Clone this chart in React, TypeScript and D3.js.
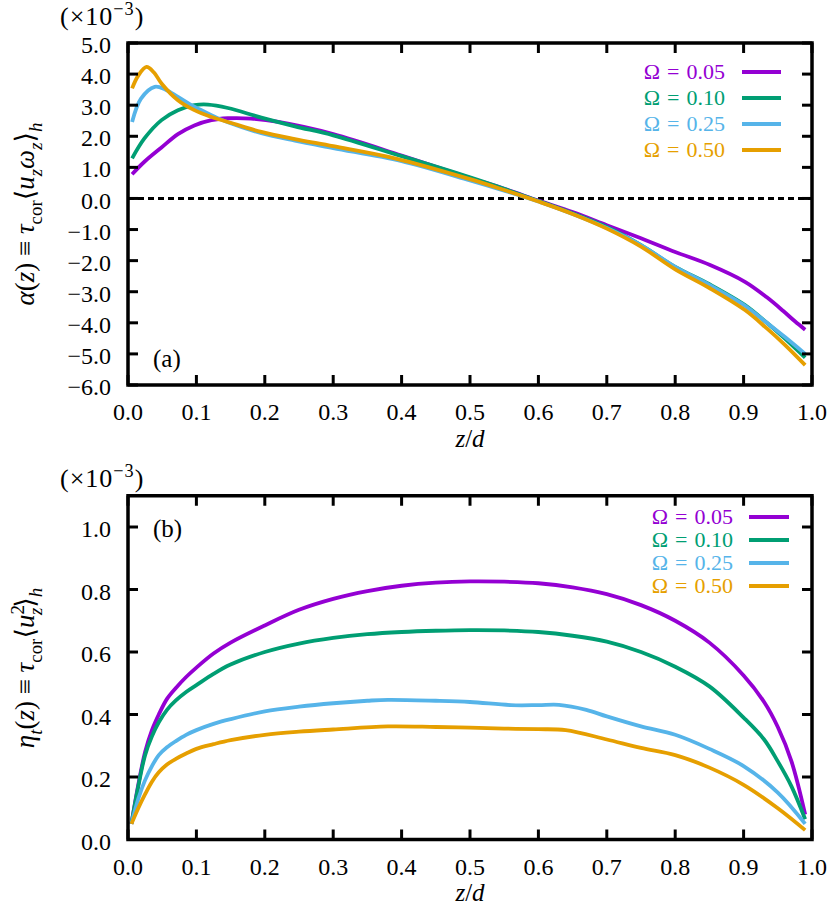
import { useEffect, useRef } from 'react';
import * as d3 from 'd3';

// legend labels and line colours
const omegaLabels = ['0.05', '0.10', '0.25', '0.50'];
const colors = ['#9400d3', '#009e73', '#56b4e9', '#e69f00'];

// panel (a): alpha(z) in units of 1e-3, [z/d, value]
const alphaW005: [number, number][] = [
  [0.006, 0.78], [0.024, 1.18], [0.049, 1.64], [0.073, 2.07], [0.097, 2.35], [0.122, 2.52],
  [0.146, 2.58], [0.18, 2.57], [0.22, 2.46], [0.3, 2.07], [0.4, 1.38], [0.5, 0.66], [0.55, 0.31],
  [0.6, -0.07], [0.65, -0.44], [0.7, -0.86], [0.75, -1.28], [0.8, -1.72], [0.851, -2.14],
  [0.902, -2.68], [0.934, -3.18], [0.958, -3.62], [0.975, -3.95], [0.99, -4.22],
];
const alphaW010: [number, number][] = [
  [0.006, 1.29], [0.024, 1.93], [0.049, 2.52], [0.073, 2.84], [0.097, 3.0], [0.117, 3.02],
  [0.146, 2.91], [0.195, 2.6], [0.244, 2.32], [0.3, 2.03], [0.4, 1.36], [0.5, 0.68], [0.55, 0.31],
  [0.6, -0.08], [0.65, -0.48], [0.7, -0.92], [0.75, -1.5], [0.8, -2.2], [0.85, -2.76],
  [0.902, -3.43], [0.934, -4.0], [0.96, -4.5], [0.99, -5.12],
];
const alphaW025: [number, number][] = [
  [0.006, 2.46], [0.019, 3.21], [0.039, 3.59], [0.055, 3.5], [0.073, 3.27], [0.097, 2.95],
  [0.122, 2.68], [0.146, 2.45], [0.195, 2.1], [0.244, 1.86], [0.3, 1.62], [0.4, 1.2], [0.5, 0.58],
  [0.55, 0.25], [0.6, -0.1], [0.65, -0.5], [0.7, -0.95], [0.75, -1.5], [0.8, -2.2], [0.85, -2.78],
  [0.902, -3.45], [0.934, -4.0], [0.96, -4.45], [0.99, -5.0],
];
const alphaW050: [number, number][] = [
  [0.006, 3.54], [0.015, 3.95], [0.027, 4.23], [0.038, 4.05], [0.049, 3.7], [0.073, 3.16],
  [0.097, 2.84], [0.122, 2.62], [0.146, 2.46], [0.195, 2.14], [0.244, 1.91], [0.3, 1.68],
  [0.39, 1.29], [0.5, 0.62], [0.55, 0.27], [0.6, -0.1], [0.65, -0.5], [0.7, -0.97], [0.75, -1.55],
  [0.8, -2.28], [0.85, -2.88], [0.902, -3.59], [0.934, -4.18], [0.96, -4.7], [0.99, -5.36],
];

// panel (b): eta_t(z) in units of 1e-3
const etaW005: [number, number][] = [
  [0.005, 0.05], [0.015, 0.175], [0.025, 0.28], [0.035, 0.35], [0.045, 0.4], [0.057, 0.45],
  [0.07, 0.485], [0.085, 0.52], [0.1, 0.55], [0.125, 0.595], [0.15, 0.63], [0.2, 0.685],
  [0.25, 0.735], [0.3, 0.77], [0.35, 0.795], [0.4, 0.812], [0.45, 0.822], [0.5, 0.826],
  [0.55, 0.825], [0.6, 0.82], [0.65, 0.807], [0.7, 0.785], [0.75, 0.75], [0.8, 0.7], [0.85, 0.63],
  [0.9, 0.525], [0.93, 0.44], [0.95, 0.36], [0.97, 0.25], [0.99, 0.08],
];
const etaW010: [number, number][] = [
  [0.005, 0.05], [0.015, 0.17], [0.025, 0.27], [0.035, 0.33], [0.045, 0.375], [0.057, 0.415],
  [0.07, 0.445], [0.085, 0.472], [0.1, 0.494], [0.125, 0.53], [0.15, 0.56], [0.2, 0.6],
  [0.25, 0.627], [0.3, 0.645], [0.35, 0.657], [0.4, 0.664], [0.45, 0.668], [0.5, 0.67],
  [0.55, 0.669], [0.6, 0.664], [0.65, 0.652], [0.7, 0.633], [0.75, 0.6], [0.8, 0.553], [0.85, 0.49],
  [0.9, 0.39], [0.93, 0.32], [0.95, 0.25], [0.97, 0.17], [0.99, 0.065],
];
const etaW025: [number, number][] = [
  [0.005, 0.05], [0.015, 0.13], [0.025, 0.19], [0.035, 0.235], [0.045, 0.27], [0.057, 0.295],
  [0.07, 0.315], [0.085, 0.335], [0.1, 0.35], [0.125, 0.37], [0.15, 0.385], [0.2, 0.41],
  [0.25, 0.425], [0.3, 0.436], [0.35, 0.444], [0.38, 0.447], [0.45, 0.444], [0.5, 0.44],
  [0.56, 0.43], [0.6, 0.43], [0.63, 0.431], [0.67, 0.415], [0.7, 0.394], [0.75, 0.362],
  [0.8, 0.335], [0.85, 0.29], [0.9, 0.235], [0.95, 0.15], [0.99, 0.05],
];
const etaW050: [number, number][] = [
  [0.005, 0.05], [0.015, 0.1], [0.025, 0.145], [0.035, 0.185], [0.045, 0.215], [0.057, 0.24],
  [0.07, 0.258], [0.085, 0.275], [0.1, 0.29], [0.125, 0.305], [0.15, 0.318], [0.2, 0.335],
  [0.25, 0.345], [0.3, 0.352], [0.38, 0.362], [0.45, 0.36], [0.5, 0.358], [0.55, 0.355],
  [0.6, 0.353], [0.64, 0.35], [0.7, 0.32], [0.75, 0.293], [0.8, 0.27], [0.85, 0.23], [0.9, 0.175],
  [0.95, 0.1], [0.99, 0.03],
];

const xTicks = [0, 0.1, 0.2, 0.3, 0.4, 0.5, 0.6, 0.7, 0.8, 0.9, 1.0];
const alphaTicks = [-6, -5, -4, -3, -2, -1, 0, 1, 2, 3, 4, 5];
const etaTicks = [0, 0.2, 0.4, 0.6, 0.8, 1.0];

const FONT = "'Liberation Serif', 'DejaVu Serif', serif";

type Part = { t: string; it?: boolean; sub?: boolean; sup?: boolean; dx?: number };

// write text with italic pieces and sub/superscripts as tspans
const rich = (sel: any, parts: Part[], size: number) => {
  let shift = 0;
  parts.forEach(p => {
    const target = p.sub ? size * 0.3 : p.sup ? -size * 0.38 : 0;
    const ts = sel.append('tspan')
      .attr('dy', target - shift)
      .style('font-size', `${p.sub || p.sup ? size * 0.7 : size}px`)
      .style('font-style', p.it ? 'italic' : 'normal')
      .text(p.t);
    if (p.dx) ts.attr('dx', p.dx);
    shift = target;
  });
};

const App = () => {
  const ref = useRef<SVGSVGElement | null>(null);

  useEffect(() => {
    const svg = d3.select(ref.current);
    svg.selectAll('*').remove();

    const x = d3.scaleLinear().domain([0, 1]).range([128, 812]);

    const drawPanel = (opts: {
      y: d3.ScaleLinear<number, number>;
      ticks: number[];
      fmt: (d: number) => string;
      series: [number, number][][];
      zeroLine: boolean;
      tag: string;
      tagY: number;
      legendRight: number;
      legendY: number;
      legendStep: number;
      legendLine: [number, number];
      yLabel: Part[];
      yLabelCenter: number;
      expY: number;
      xLabelY: number;
    }) => {
      const { y } = opts;
      const [y0, y1] = y.range();
      const g = svg.append('g');

      if (opts.zeroLine) {
        g.append('line')
          .attr('x1', x(0)).attr('x2', x(1))
          .attr('y1', y(0)).attr('y2', y(0))
          .attr('stroke', '#000').attr('stroke-width', 3)
          .attr('stroke-dasharray', '6,4');
      }

      // curves
      const line = d3.line<[number, number]>()
        .x(d => x(d[0]))
        .y(d => y(d[1]))
        .curve(d3.curveCatmullRom.alpha(0.5));
      opts.series.forEach((s, i) => {
        g.append('path')
          .attr('d', line(s))
          .attr('fill', 'none')
          .attr('stroke', colors[i])
          .attr('stroke-width', 3.8)
          .attr('stroke-linejoin', 'round');
      });

      // ticks (mirrored on all four sides)
      const tl = 10;
      xTicks.forEach(t => {
        g.append('line').attr('x1', x(t)).attr('x2', x(t)).attr('y1', y0).attr('y2', y0 - tl)
          .attr('stroke', '#000').attr('stroke-width', 3);
        g.append('line').attr('x1', x(t)).attr('x2', x(t)).attr('y1', y1).attr('y2', y1 + tl)
          .attr('stroke', '#000').attr('stroke-width', 3);
        g.append('text')
          .attr('x', x(t)).attr('y', y0 + 35)
          .attr('text-anchor', 'middle')
          .style('font-family', FONT).style('font-size', '24px')
          .text(d3.format('.1f')(t));
      });
      opts.ticks.forEach(t => {
        g.append('line').attr('x1', x(0)).attr('x2', x(0) + tl).attr('y1', y(t)).attr('y2', y(t))
          .attr('stroke', '#000').attr('stroke-width', 3);
        g.append('line').attr('x1', x(1)).attr('x2', x(1) - tl).attr('y1', y(t)).attr('y2', y(t))
          .attr('stroke', '#000').attr('stroke-width', 3);
        g.append('text')
          .attr('x', 111).attr('y', y(t)).attr('dy', '0.42em')
          .attr('text-anchor', 'end')
          .style('font-family', FONT).style('font-size', '24px')
          .text(opts.fmt(t));
      });

      // frame
      g.append('rect')
        .attr('x', x(0)).attr('y', y1)
        .attr('width', x(1) - x(0)).attr('height', y0 - y1)
        .attr('fill', 'none').attr('stroke', '#000').attr('stroke-width', 3.5);

      // panel tag
      g.append('text')
        .attr('x', 153).attr('y', opts.tagY)
        .style('font-family', FONT).style('font-size', '25px')
        .text(opts.tag);

      // legend
      omegaLabels.forEach((lab, i) => {
        const cy = opts.legendY + i * opts.legendStep;
        const t = g.append('text')
          .attr('x', opts.legendRight).attr('y', cy + 7)
          .attr('text-anchor', 'end')
          .attr('fill', colors[i])
          .style('font-family', FONT).style('font-size', '22px');
        t.append('tspan').text('Ω');
        t.append('tspan').attr('dx', 7).text('=');
        t.append('tspan').attr('dx', 7).text(lab);
        g.append('line')
          .attr('x1', opts.legendLine[0]).attr('x2', opts.legendLine[1])
          .attr('y1', cy).attr('y2', cy)
          .attr('stroke', colors[i]).attr('stroke-width', 3.8);
      });

      // scale factor
      const e = g.append('text')
        .attr('x', 60).attr('y', opts.expY)
        .style('font-family', FONT)
        .style('letter-spacing', '1px');
      rich(e, [{ t: '(×10' }, { t: '−3', sup: true }, { t: ')' }], 26);

      // axis labels
      const xl = g.append('text')
        .attr('x', 470).attr('y', opts.xLabelY)
        .attr('text-anchor', 'middle')
        .style('font-family', FONT);
      rich(xl, [{ t: 'z', it: true }, { t: '/' }, { t: 'd', it: true }], 25);

      const yl = g.append('text')
        .attr('transform', `translate(34,${opts.yLabelCenter}) rotate(-90)`)
        .attr('text-anchor', 'middle')
        .style('font-family', FONT);
      rich(yl, opts.yLabel, 27);
    };

    drawPanel({
      y: d3.scaleLinear().domain([-6, 5]).range([385, 43]),
      ticks: alphaTicks,
      fmt: d3.format('.1f'),
      series: [alphaW005, alphaW010, alphaW025, alphaW050],
      zeroLine: true,
      tag: '(a)',
      tagY: 367,
      legendRight: 725,
      legendY: 72,
      legendStep: 26,
      legendLine: [742, 781],
      yLabel: [
        { t: 'α', it: true }, { t: '(' }, { t: 'z', it: true }, { t: ') ≡ ' },
        { t: 'τ', it: true }, { t: 'cor', sub: true }, { t: '⟨' }, { t: 'u', it: true },
        { t: 'z', it: true, sub: true }, { t: 'ω', it: true }, { t: 'z', it: true, sub: true },
        { t: '⟩' }, { t: 'h', it: true, sub: true },
      ],
      yLabelCenter: 214,
      expY: 25,
      xLabelY: 447,
    });

    drawPanel({
      y: d3.scaleLinear().domain([0, 1.1]).range([839.5, 495.75]),
      ticks: etaTicks,
      fmt: d3.format('.1f'),
      series: [etaW005, etaW010, etaW025, etaW050],
      zeroLine: false,
      tag: '(b)',
      tagY: 537,
      legendRight: 733,
      legendY: 517,
      legendStep: 23,
      legendLine: [749, 789],
      yLabel: [
        { t: 'η', it: true }, { t: 't', it: true, sub: true }, { t: '(' }, { t: 'z', it: true },
        { t: ') ≡ ' }, { t: 'τ', it: true }, { t: 'cor', sub: true }, { t: '⟨' },
        { t: 'u', it: true }, { t: '2', sup: true }, { t: 'z', it: true, sub: true, dx: -10 },
        { t: '⟩' }, { t: 'h', it: true, sub: true },
      ],
      yLabelCenter: 668,
      expY: 487,
      xLabelY: 901,
    });
  }, []);

  return (
    <svg
      ref={ref}
      width={830}
      height={914}
      style={{ position: 'absolute', left: 0, top: 0, background: '#fff' }}
    />
  );
};

export default App;
